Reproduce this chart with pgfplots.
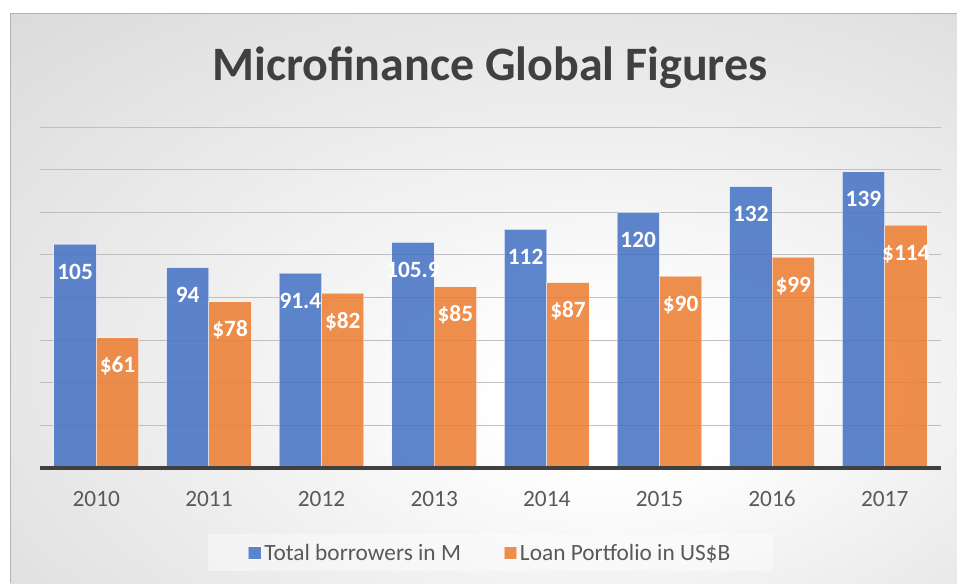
\documentclass[border=0pt]{standalone}
\usepackage{pgfplots}
\pgfplotsset{compat=1.18}
\usepackage{fontspec}
\setmainfont{Carlito}
\definecolor{barblue}{HTML}{4472C4}
\definecolor{barorange}{HTML}{ED7D31}
\definecolor{titlegray}{HTML}{404040}
\definecolor{tickgray}{HTML}{595959}
\definecolor{gridgray}{HTML}{BFBFBF}
\pgfdeclareradialshading{bgshade}{\pgfpoint{8bp}{-10bp}}{color(0bp)=(white); color(6bp)=(white); color(55bp)=(black!20); color(72bp)=(black!26)}
\begin{document}
\begin{tikzpicture}
\useasboundingbox (0,0) rectangle (717.75pt,437.25pt);
\fill[white] (0,0) rectangle (717.75pt,437.25pt);
\shade[shading=bgshade] (7.5pt,0) rectangle (717.75pt,426.75pt);
\draw[black!30, line width=0.75pt] (7.5pt,0) -- (7.5pt,426.75pt) -- (717.75pt,426.75pt);
\node[anchor=base, font=\bfseries\fontsize{36}{40}\selectfont, text=titlegray] at (367.5pt,376.5pt) {Microfinance Global Figures};
\begin{axis}[
  scale only axis, width=675.75pt, height=255.75pt,
  at={(30pt,86.25pt)}, anchor=south west,
  xmin=-0.5, xmax=7.5, ymin=0, ymax=160,
  axis line style={draw=none},
  xtick={0,1,2,3,4,5,6,7},
  xticklabels={2010,2011,2012,2013,2014,2015,2016,2017},
  ytick={20,40,60,80,100,120,140,160}, yticklabels={},
  major tick length=0pt,
  ymajorgrids, grid style={gridgray, line width=0.75pt},
  xticklabel style={anchor=base, yshift=-29pt, font=\fontsize{17.5}{21}\selectfont, text=tickgray},
  bar width=31.8pt,
  nodes near coords, point meta=explicit symbolic,
  nodes near coords style={anchor=base, yshift=-26.25pt, text=white, text opacity=1, font=\bfseries\fontsize{17.5}{21}\selectfont},
  clip=false,
  legend columns=2,
  legend image code/.code={\fill[#1] (0pt,-4.75pt) rectangle (9.5pt,4.75pt);},
  legend style={at={(0.5,-0.249)}, anchor=center, draw=none, fill=white, fill opacity=0.4, text opacity=1,
    inner xsep=30pt, inner ysep=5pt, font=\fontsize{17.5}{21}\selectfont, text=tickgray,
    /tikz/every even column/.append style={column sep=30pt}},
]
\addplot[ybar, bar shift=-15.9pt, fill=barblue, fill opacity=0.86, draw=white, draw opacity=0.5, line width=0.75pt,
  every node near coord/.append style={xshift=-15.9pt}]
  coordinates {(0,105)[105] (1,94)[94] (2,91.4)[91.4] (3,105.9)[105.9] (4,112)[112] (5,120)[120] (6,132)[132] (7,139)[139]};
\addplot[ybar, bar shift=15.9pt, fill=barorange, fill opacity=0.86, draw=white, draw opacity=0.5, line width=0.75pt,
  every node near coord/.append style={xshift=15.9pt}]
  coordinates {(0,61)[\$61] (1,78)[\$78] (2,82)[\$82] (3,85)[\$85] (4,87)[\$87] (5,90)[\$90] (6,99)[\$99] (7,114)[\$114]};
\draw[titlegray, line width=2.4pt] (axis cs:-0.5,0) -- (axis cs:7.5,0);
\legend{Total borrowers in M, Loan Portfolio in US\$B}
\end{axis}
\end{tikzpicture}
\end{document}
